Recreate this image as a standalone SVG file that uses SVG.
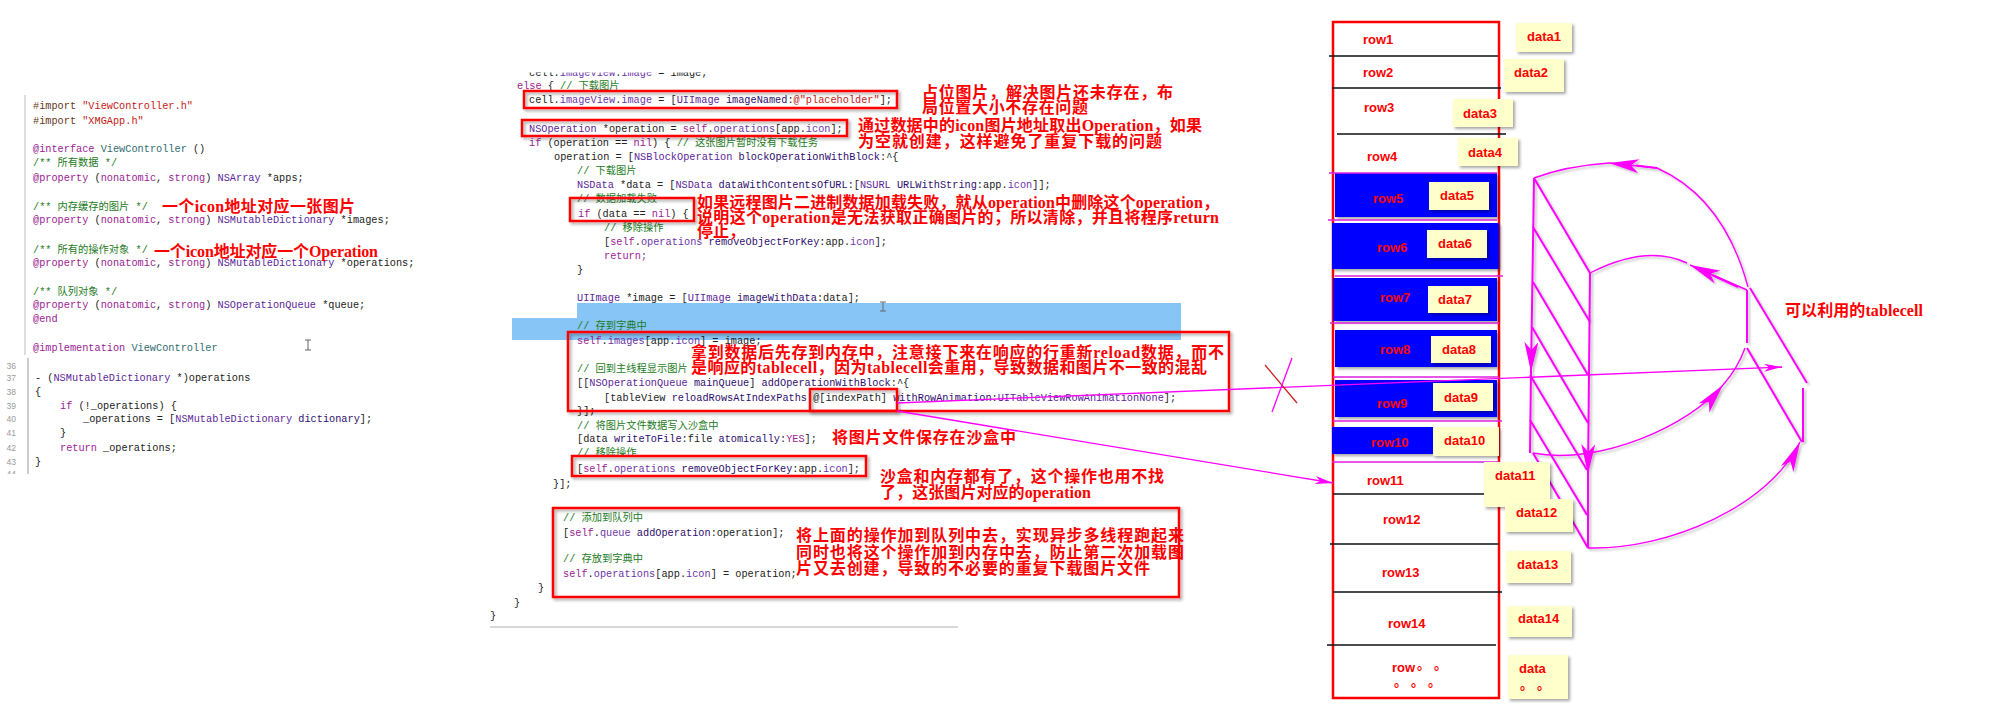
<svg xmlns="http://www.w3.org/2000/svg" width="1994" height="705" viewBox="0 0 1994 705">
<style>
.code{font-family:"Liberation Mono","Noto Sans CJK SC",monospace;font-size:10.25px;fill:#222}
.cm{fill:#1e7b1e}.kw{fill:#9b2393}.st{fill:#c41a16}.pp{fill:#643820}.ty{fill:#5c2699}.cls{fill:#326d74}.pr{fill:#6c36a9}.mt{fill:#2e0d6e}
.ln{font-family:"Liberation Sans",sans-serif;font-size:8.5px;fill:#9a9a9a;text-anchor:end}
.an{font-family:"Liberation Serif","Noto Sans CJK SC",serif;font-weight:bold;font-size:16px;fill:#ff0000}
.rb{fill:none;stroke:#ff0000;stroke-width:2.5;filter:url(#sh)}
.rw{font-family:"Liberation Sans","Noto Sans CJK SC",sans-serif;font-weight:bold;font-size:13px;fill:#ff0000}
.blue{fill:#0000ff;filter:url(#sh)}
.dbox{fill:#ffffcc;filter:url(#sh)}
.sepk{stroke:#111;stroke-width:1.6}
.sepm{stroke:#e020e0;stroke-width:1.6}
.mg{fill:none;stroke:#ff00ff;stroke-width:2}
.mgt{fill:none;stroke:#ff00ff;stroke-width:1.4}
.cur{fill:none;stroke:#666;stroke-width:1}
</style>
<defs>
<filter id="sh" x="-10%" y="-20%" width="130%" height="160%"><feDropShadow dx="2" dy="2" stdDeviation="1.4" flood-color="#000" flood-opacity="0.35"/></filter>
<filter id="lsh" x="-10%" y="-10%" width="130%" height="130%"><feDropShadow dx="2" dy="2" stdDeviation="1" flood-color="#000" flood-opacity="0.25"/></filter>
<marker id="ah" viewBox="0 0 30 14" refX="30" refY="7" markerWidth="30" markerHeight="14" markerUnits="userSpaceOnUse" orient="auto"><path d="M0,0 L30,7 L0,14 L8,7 Z" fill="#ff00ff"/></marker>
<marker id="as" viewBox="0 0 18 8" refX="18" refY="4" markerWidth="18" markerHeight="8" markerUnits="userSpaceOnUse" orient="auto"><path d="M0,0 L18,4 L0,8 L5,4 Z" fill="#ff00ff"/></marker>
<clipPath id="clipTop"><rect x="480" y="72.5" width="400" height="6"/></clipPath>
<clipPath id="clipLn36"><rect x="0" y="363" width="30" height="8"/></clipPath>
<clipPath id="clipLn44"><rect x="0" y="468" width="30" height="6"/></clipPath>
</defs>
<rect width="1994" height="705" fill="#ffffff"/>

<!-- header file / property declarations -->
<g id="left-code" class="code">
<line x1="25" y1="95" x2="25" y2="355" stroke="#dddddd" stroke-width="2"/>
<line x1="28" y1="358" x2="28" y2="474" stroke="#cccccc" stroke-width="2"/>
<text x="33" y="109"><tspan class="pp">#import</tspan> <tspan class="st">"ViewController.h"</tspan></text>
<text x="33" y="124"><tspan class="pp">#import</tspan> <tspan class="st">"XMGApp.h"</tspan></text>
<text x="33" y="152"><tspan class="kw">@interface</tspan> <tspan class="cls">ViewController</tspan> ()</text>
<text x="33" y="166" class="cm">/** 所有数据 */</text>
<text x="33" y="181"><tspan class="kw">@property</tspan> (<tspan class="kw">nonatomic</tspan>, <tspan class="kw">strong</tspan>) <tspan class="ty">NSArray</tspan> *apps;</text>
<text x="33" y="210" class="cm">/** 内存缓存的图片 */</text>
<text x="33" y="223"><tspan class="kw">@property</tspan> (<tspan class="kw">nonatomic</tspan>, <tspan class="kw">strong</tspan>) <tspan class="ty">NSMutableDictionary</tspan> *images;</text>
<text x="33" y="253" class="cm">/** 所有的操作对象 */</text>
<text x="33" y="266"><tspan class="kw">@property</tspan> (<tspan class="kw">nonatomic</tspan>, <tspan class="kw">strong</tspan>) <tspan class="ty">NSMutableDictionary</tspan> *operations;</text>
<text x="33" y="295" class="cm">/** 队列对象 */</text>
<text x="33" y="308"><tspan class="kw">@property</tspan> (<tspan class="kw">nonatomic</tspan>, <tspan class="kw">strong</tspan>) <tspan class="ty">NSOperationQueue</tspan> *queue;</text>
<text x="33" y="322" class="kw">@end</text>
<text x="33" y="351"><tspan class="kw">@implementation</tspan> <tspan class="cls">ViewController</tspan></text>
<path class="cur" d="M305,340 h6 M308,340 v10 M305,350 h6"/>
<text class="ln" x="16" y="369" clip-path="url(#clipLn36)">36</text>
<text class="ln" x="16" y="381">37</text>
<text class="ln" x="16" y="395">38</text>
<text class="ln" x="16" y="409">39</text>
<text class="ln" x="16" y="422">40</text>
<text class="ln" x="16" y="436">41</text>
<text class="ln" x="16" y="451">42</text>
<text class="ln" x="16" y="465">43</text>
<text class="ln" x="16" y="477" clip-path="url(#clipLn44)">44</text>
<text x="35" y="381">- (<tspan class="ty">NSMutableDictionary</tspan> *)operations</text>
<text x="35" y="395">{</text>
<text x="60" y="409"><tspan class="kw">if</tspan> (!_operations) {</text>
<text x="83" y="422">_operations = [<tspan class="ty">NSMutableDictionary</tspan> <tspan class="mt">dictionary</tspan>];</text>
<text x="60" y="436">}</text>
<text x="60" y="451"><tspan class="kw">return</tspan> _operations;</text>
<text x="35" y="465">}</text>
</g>

<g id="note-images">
<text class="an" x="162" y="212" textLength="193" lengthAdjust="spacing">一个icon地址对应一张图片</text>
</g>
<g id="note-operations">
<text class="an" x="154" y="257" textLength="224" lengthAdjust="spacing">一个icon地址对应一个Operation</text>
</g>

<!-- cell download code -->
<g id="mid-code" class="code">
<path d="M577,303 H1181 V340 H512 V318 H577 Z" fill="#86c5f5"/>
<text x="529" y="76" clip-path="url(#clipTop)">cell.<tspan class="pr">imageView</tspan>.<tspan class="pr">image</tspan> = image;</text>
<text x="517" y="89"><tspan class="kw">else</tspan> { <tspan class="cm">// 下载图片</tspan></text>
<text x="529" y="103">cell.<tspan class="pr">imageView</tspan>.<tspan class="pr">image</tspan> = [<tspan class="ty">UIImage</tspan> <tspan class="mt">imageNamed</tspan>:<tspan class="st">@"placeholder"</tspan>];</text>
<text x="529" y="131.5"><tspan class="ty">NSOperation</tspan> *operation = <tspan class="kw">self</tspan>.<tspan class="pr">operations</tspan>[app.<tspan class="pr">icon</tspan>];</text>
<text x="529" y="146"><tspan class="kw">if</tspan> (operation == <tspan class="kw">nil</tspan>) { <tspan class="cm">// 这张图片暂时没有下载任务</tspan></text>
<text x="554" y="160">operation = [<tspan class="ty">NSBlockOperation</tspan> <tspan class="mt">blockOperationWithBlock</tspan>:^{</text>
<text x="577" y="174" class="cm">// 下载图片</text>
<text x="577" y="188"><tspan class="ty">NSData</tspan> *data = [<tspan class="ty">NSData</tspan> <tspan class="mt">dataWithContentsOfURL</tspan>:[<tspan class="ty">NSURL</tspan> <tspan class="mt">URLWithString</tspan>:app.<tspan class="pr">icon</tspan>]];</text>
<text x="577" y="202" class="cm">// 数据加载失败</text>
<text x="578" y="217"><tspan class="kw">if</tspan> (data == <tspan class="kw">nil</tspan>) {</text>
<text x="604" y="231" class="cm">// 移除操作</text>
<text x="604" y="245">[<tspan class="kw">self</tspan>.<tspan class="pr">operations</tspan> <tspan class="mt">removeObjectForKey</tspan>:app.<tspan class="pr">icon</tspan>];</text>
<text x="604" y="259" class="kw">return;</text>
<text x="577" y="273">}</text>
<text x="577" y="301"><tspan class="ty">UIImage</tspan> *image = [<tspan class="ty">UIImage</tspan> <tspan class="mt">imageWithData</tspan>:data];</text>
<path class="cur" d="M880,302 h6 M883,302 v9 M880,311 h6"/>
<text x="577" y="329" class="cm">// 存到字典中</text>
<text x="577" y="344"><tspan class="kw">self</tspan>.<tspan class="pr">images</tspan>[app.<tspan class="pr">icon</tspan>] = image;</text>
<text x="577" y="372" class="cm">// 回到主线程显示图片</text>
<text x="577" y="386">[[<tspan class="ty">NSOperationQueue</tspan> <tspan class="mt">mainQueue</tspan>] <tspan class="mt">addOperationWithBlock</tspan>:^{</text>
<text x="604" y="401">[tableView <tspan class="mt">reloadRowsAtIndexPaths</tspan>:@[indexPath] <tspan class="mt">withRowAnimation</tspan>:<tspan class="ty">UITableViewRowAnimationNone</tspan>];</text>
<text x="577" y="414">}];</text>
<text x="577" y="429" class="cm">// 将图片文件数据写入沙盒中</text>
<text x="577" y="442">[data <tspan class="mt">writeToFile</tspan>:file <tspan class="mt">atomically</tspan>:<tspan class="kw">YES</tspan>];</text>
<text x="577" y="456" class="cm">// 移除操作</text>
<text x="577" y="472">[<tspan class="kw">self</tspan>.<tspan class="pr">operations</tspan> <tspan class="mt">removeObjectForKey</tspan>:app.<tspan class="pr">icon</tspan>];</text>
<text x="553" y="487">}];</text>
<text x="563" y="521" class="cm">// 添加到队列中</text>
<text x="563" y="536">[<tspan class="kw">self</tspan>.<tspan class="pr">queue</tspan> <tspan class="mt">addOperation</tspan>:operation];</text>
<text x="563" y="562" class="cm">// 存放到字典中</text>
<text x="563" y="577"><tspan class="kw">self</tspan>.<tspan class="pr">operations</tspan>[app.<tspan class="pr">icon</tspan>] = operation;</text>
<text x="538" y="591">}</text>
<text x="514" y="606">}</text>
<text x="490" y="619">}</text>
<line x1="490" y1="627" x2="958" y2="627" stroke="#cccccc" stroke-width="1.5"/>
</g>

<!-- highlighted statements and their notes -->
<g id="placeholder">
<rect class="rb" x="524" y="91" width="373" height="17"/>
<text class="an" x="922" y="98" textLength="251" lengthAdjust="spacing">占位图片，解决图片还未存在，布</text>
<text class="an" x="922" y="113" textLength="166" lengthAdjust="spacing">局位置大小不存在问题</text>
</g>
<g id="lookup-operation">
<rect class="rb" x="522" y="120" width="325" height="16"/>
<text class="an" x="858" y="131" textLength="344" lengthAdjust="spacing">通过数据中的icon图片地址取出Operation，如果</text>
<text class="an" x="858" y="147" textLength="304" lengthAdjust="spacing">为空就创建，这样避免了重复下载的问题</text>
</g>
<g id="data-nil">
<rect class="rb" x="570" y="198" width="124" height="23"/>
<text class="an" x="697" y="208" textLength="522" lengthAdjust="spacing">如果远程图片二进制数据加载失败，就从operation中删除这个operation，</text>
<text class="an" x="697" y="223" textLength="522" lengthAdjust="spacing">说明这个operation是无法获取正确图片的，所以清除，并且将程序return</text>
<text class="an" x="697" y="237">停止，</text>
</g>
<g id="reload-row">
<rect class="rb" x="568" y="332" width="661" height="79"/>
<text class="an" x="691" y="358" textLength="533" lengthAdjust="spacing">拿到数据后先存到内存中，注意接下来在响应的行重新reload数据，而不</text>
<text class="an" x="691" y="373" textLength="516" lengthAdjust="spacing">是响应的tablecell，因为tablecell会重用，导致数据和图片不一致的混乱</text>
</g>
<g id="index-path">
<rect class="rb" x="810" y="389" width="87" height="22"/>
</g>
<g id="sandbox">
<text class="an" x="832" y="443" textLength="184" lengthAdjust="spacing">将图片文件保存在沙盒中</text>
</g>
<g id="remove-operation">
<rect class="rb" x="572" y="456" width="294" height="20"/>
<text class="an" x="880" y="482" textLength="284" lengthAdjust="spacing">沙盒和内存都有了，这个操作也用不找</text>
<text class="an" x="880" y="498" textLength="211" lengthAdjust="spacing">了，这张图片对应的operation</text>
</g>
<g id="queue-add">
<rect class="rb" x="553" y="508" width="626" height="89"/>
<text class="an" x="796" y="541" textLength="388" lengthAdjust="spacing">将上面的操作加到队列中去，实现异步多线程跑起来</text>
<text class="an" x="796" y="558" textLength="388" lengthAdjust="spacing">同时也将这个操作加到内存中去，防止第二次加载图</text>
<text class="an" x="796" y="574" textLength="354" lengthAdjust="spacing">片又去创建，导致的不必要的重复下载图片文件</text>
</g>

<!-- reused cells rolled into a loop -->
<g id="reuse-loop" filter="url(#lsh)">
<path class="mg" d="M1534,178 L1531,372" marker-end="url(#ah)"/>
<path class="mg" d="M1531,372 L1530,453"/>
<path class="mg" d="M1590,273 L1588,474" marker-end="url(#ah)"/>
<path class="mg" d="M1588,474 L1588,548"/>
<path class="mg" d="M1534,178 L1590,273 M1533,227 L1590,322 M1533,282 L1588,375 M1532,327 L1588,423 M1530,375 L1587,470 M1530,420 L1587,515 M1533,453 L1588,548"/>
<path class="mg" d="M1747,290 L1747,343 M1750,288 L1807,383 M1803,388 L1803,442 M1747,348 L1802,442"/>
<path class="mgt" d="M1534,178 Q1566,166 1609,163"/>
<path class="mgt" d="M1748,287 Q1724,198 1657,168 L1609,163" marker-end="url(#ah)"/>
<path class="mg" stroke-width="4" d="M1636,165.5 L1657,168"/>
<path class="mgt" d="M1590,273 Q1647,244 1687,263"/>
<path class="mgt" d="M1747,290 L1690,265" marker-end="url(#ah)"/>
<path class="mg" stroke-width="4" d="M1712,275 L1738,287"/>
<path class="mgt" d="M1533,453 C1600,466 1690,425 1723,385" marker-end="url(#ah)"/>
<path class="mgt" d="M1723,385 Q1738,368 1745,348"/>
<path class="mgt" d="M1588,548 C1670,550 1770,505 1800,442" marker-end="url(#ah)"/>
</g>
<g id="reuse-label">
<text class="an" x="1785" y="316" textLength="138" lengthAdjust="spacing">可以利用的tablecell</text>
</g>

<!-- table view rows -->
<g id="table">
<rect x="1333" y="22" width="166" height="676" fill="#ffffff" stroke="#ff0000" stroke-width="2.5"/>
<rect class="blue" x="1335" y="173" width="162" height="44"/>
<rect class="blue" x="1332" y="223" width="167" height="46"/>
<rect class="blue" x="1333" y="278" width="164" height="43"/>
<rect class="blue" x="1335" y="330" width="162" height="37"/>
<rect class="blue" x="1335" y="380" width="162" height="37"/>
<rect class="blue" x="1332" y="427" width="101" height="27"/>
<path class="sepk" d="M1329,56 H1498 M1332,88 H1501 M1337,134 H1506 M1333,494 H1485 M1330,544 H1499 M1333,592 H1502 M1327,645 H1496"/>
<path class="sepm" d="M1329,173 H1497 M1328,220 H1497 M1335,276 H1503 M1330,323 H1499 M1333,377 H1499 M1333,421 H1502 M1332,462 H1499"/>
</g>
<g id="row1"><text class="rw" x="1363" y="44">row1</text></g>
<g id="row2"><text class="rw" x="1363" y="77">row2</text></g>
<g id="row3"><text class="rw" x="1364" y="112">row3</text></g>
<g id="row4"><text class="rw" x="1367" y="161">row4</text></g>
<g id="row5"><text class="rw" x="1373" y="203">row5</text></g>
<g id="row6"><text class="rw" x="1377" y="252">row6</text></g>
<g id="row7"><text class="rw" x="1380" y="302">row7</text></g>
<g id="row8"><text class="rw" x="1380" y="354">row8</text></g>
<g id="row9"><text class="rw" x="1377" y="408">row9</text></g>
<g id="row10"><text class="rw" x="1371" y="447">row10</text></g>
<g id="row11"><text class="rw" x="1367" y="485">row11</text></g>
<g id="row12"><text class="rw" x="1383" y="524">row12</text></g>
<g id="row13"><text class="rw" x="1382" y="577">row13</text></g>
<g id="row14"><text class="rw" x="1388" y="628">row14</text></g>
<g id="row-more"><text class="rw" x="1392" y="672">row</text><text class="rw" font-size="11" x="1417 1434" y="669">。。</text><text class="rw" font-size="11" x="1394 1411 1428" y="686">。。。</text></g>

<g id="data1"><rect class="dbox" x="1516" y="23" width="56" height="29"/><text class="rw" x="1527" y="41">data1</text></g>
<g id="data2"><rect class="dbox" x="1504" y="59" width="60" height="33"/><text class="rw" x="1514" y="77">data2</text></g>
<g id="data3"><rect class="dbox" x="1453" y="99" width="60" height="28"/><text class="rw" x="1463" y="118">data3</text></g>
<g id="data4"><rect class="dbox" x="1458" y="138" width="60" height="28"/><text class="rw" x="1468" y="157">data4</text></g>
<g id="data5"><rect class="dbox" x="1429" y="182" width="60" height="28"/><text class="rw" x="1440" y="200">data5</text></g>
<g id="data6"><rect class="dbox" x="1427" y="230" width="60" height="28"/><text class="rw" x="1438" y="248">data6</text></g>
<g id="data7"><rect class="dbox" x="1428" y="286" width="60" height="27"/><text class="rw" x="1438" y="304">data7</text></g>
<g id="data8"><rect class="dbox" x="1431" y="336" width="60" height="27"/><text class="rw" x="1442" y="354">data8</text></g>
<g id="data9"><rect class="dbox" x="1433" y="383" width="60" height="28"/><text class="rw" x="1444" y="402">data9</text></g>
<g id="data10"><rect class="dbox" x="1433" y="427" width="66" height="29"/><text class="rw" x="1444" y="445">data10</text></g>
<g id="data11"><rect class="dbox" x="1484" y="462" width="66" height="45"/><text class="rw" x="1495" y="480">data11</text></g>
<g id="data12"><rect class="dbox" x="1505" y="499" width="68" height="33"/><text class="rw" x="1516" y="517">data12</text></g>
<g id="data13"><rect class="dbox" x="1506" y="551" width="65" height="32"/><text class="rw" x="1517" y="569">data13</text></g>
<g id="data14"><rect class="dbox" x="1507" y="606" width="65" height="31"/><text class="rw" x="1518" y="623">data14</text></g>
<g id="data-more"><rect class="dbox" x="1508" y="655" width="60" height="44"/><text class="rw" x="1519" y="673">data</text><text class="rw" font-size="11" x="1520 1537" y="689">。。</text></g>

<!-- links from the reload call -->
<g id="connectors">
<path d="M897,403 L1782,367" fill="none" stroke="#ff00ff" stroke-width="1.3" marker-end="url(#as)"/>
<path d="M897,411 L1333,483" fill="none" stroke="#ff00ff" stroke-width="1.3" marker-end="url(#as)"/>
<path d="M1265,365 L1297,403" stroke="#cc2222" stroke-width="1.3"/>
<path d="M1292,358 L1272,412" stroke="#ff00ff" stroke-width="1.3"/>
</g>
</svg>
